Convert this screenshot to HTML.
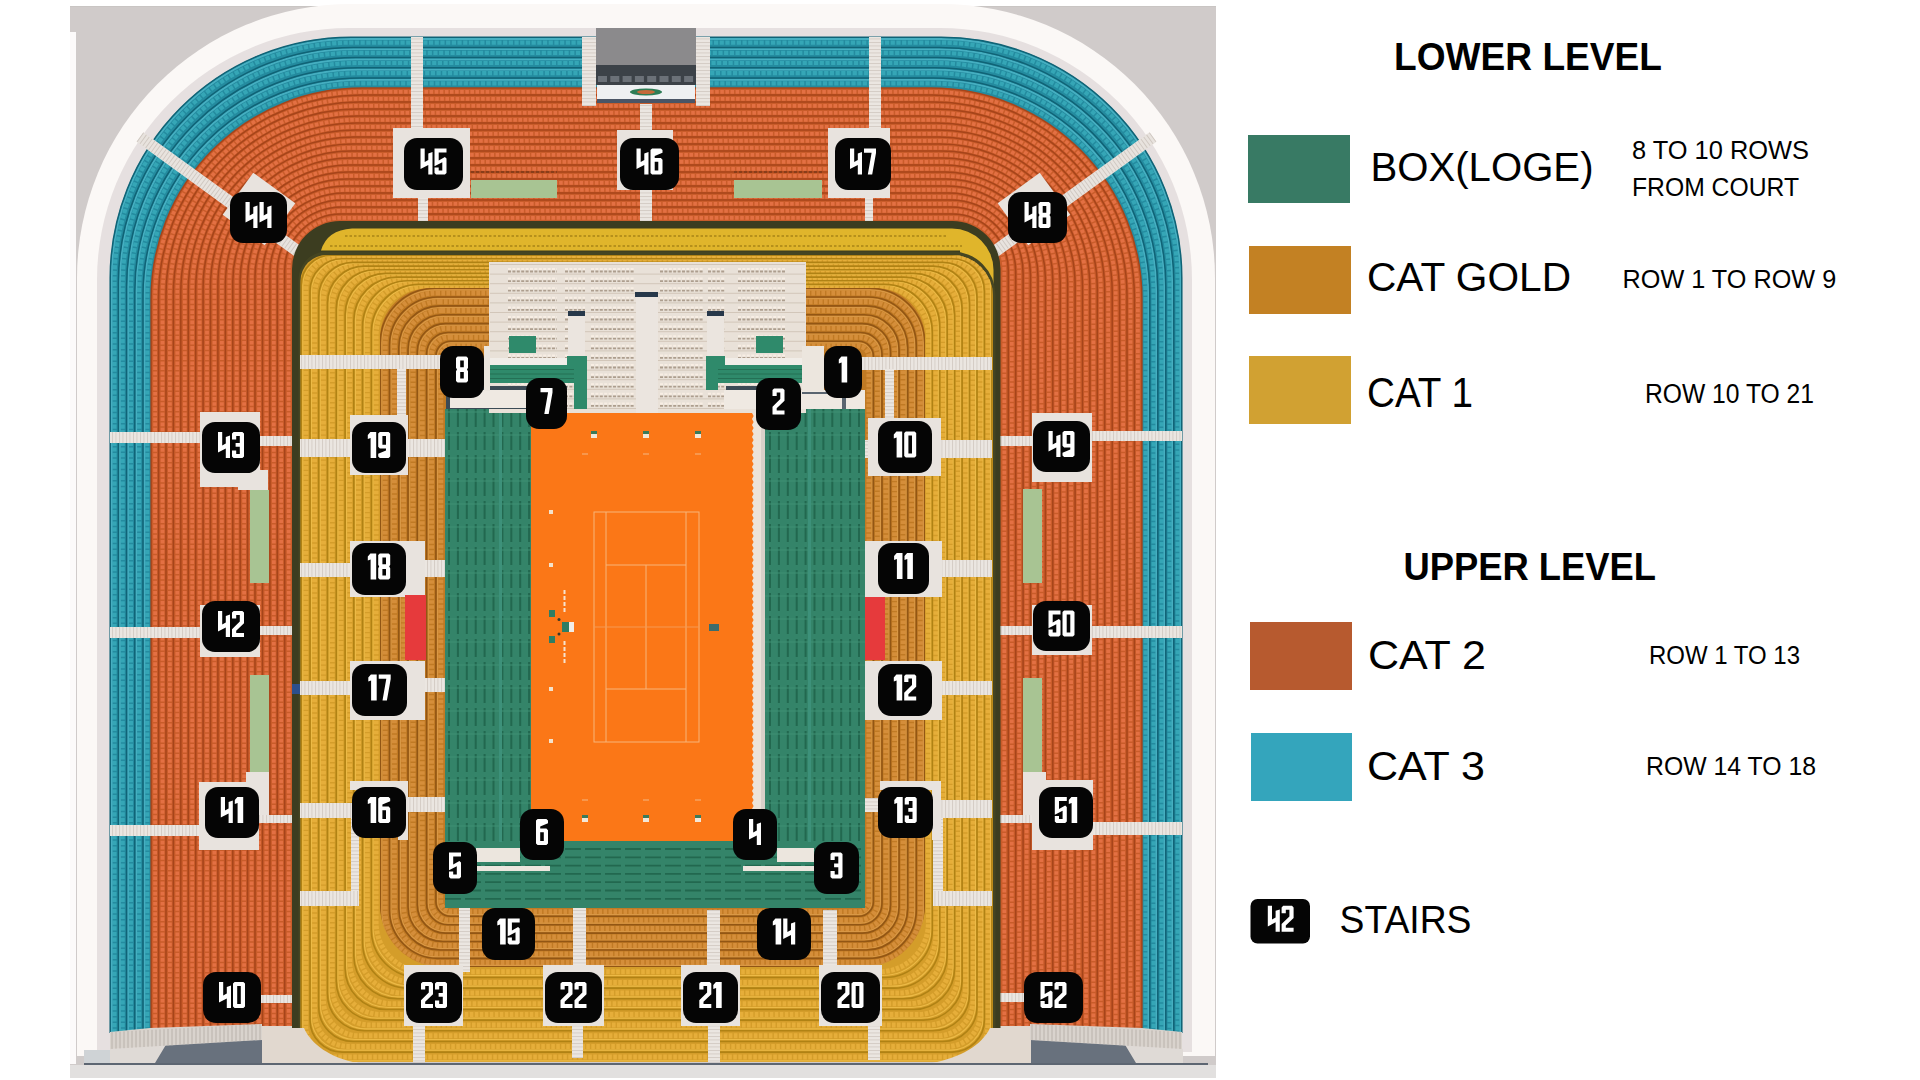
<!DOCTYPE html>
<html><head><meta charset="utf-8"><style>
html,body{margin:0;padding:0;background:#fff;width:1920px;height:1080px;overflow:hidden}
svg{position:absolute;left:0;top:0;display:block}
text{font-family:"Liberation Sans",sans-serif}
</style></head><body>
<svg width="1920" height="1080" viewBox="0 0 1920 1080">
<g>
<defs><pattern id="aH" width="3.5" height="10" patternUnits="userSpaceOnUse"><rect width="3.5" height="10" fill="#ebe6e1"/><rect width="0.9" height="10" fill="#d3cbc4"/></pattern><pattern id="aV" width="10" height="3.5" patternUnits="userSpaceOnUse"><rect width="10" height="3.5" fill="#ebe6e1"/><rect width="10" height="0.9" fill="#d3cbc4"/></pattern></defs><rect x="70" y="6" width="1146" height="1074" fill="#d0cbca"/><rect x="70" y="6" width="1146" height="1" fill="#c9c5c3"/><rect x="70" y="32" width="6" height="1032" fill="#fcfafa"/><path d="M77.0,1056.0 L77.0,278.0 A274.0,274.0 0 0 1 351.0,4.0 L941.0,4.0 A274.0,274.0 0 0 1 1215.0,278.0 L1215.0,1056.0 Z" fill="#fbf8f6"/><path d="M97.0,1052.0 L97.0,280.0 A252.0,252.0 0 0 1 349.0,28.0 L940.0,28.0 A252.0,252.0 0 0 1 1192.0,280.0 L1192.0,1052.0 Z" fill="#e6e0e0"/><rect x="84" y="1063" width="1124" height="2" fill="#5d6672"/><rect x="70" y="1065" width="1146" height="13" fill="#e2e0df"/><rect x="70" y="1078" width="1146" height="2" fill="#fff"/><rect x="84" y="1050" width="26" height="13" fill="#cfd3d6"/><polygon points="110,1049 251,1040 253,1032 263,1032 263,1063 110,1063" fill="#dfdad6"/><polygon points="167,1043 252,1040 253,1032 263,1032 263,1063 155,1063" fill="#68717d"/><polygon points="263,1032 318,1032 358,1063 263,1063" fill="#e1d8cf"/><polygon points="1183,1049 1040,1040 1030,1032 1029,1032 1029,1063 1183,1063" fill="#dfdad6"/><polygon points="1124,1043 1040,1040 1030,1032 1029,1032 1029,1063 1136,1063" fill="#68717d"/><polygon points="1029,1032 975,1032 935,1063 1029,1063" fill="#e1d8cf"/><path d="M110.0,1033.0 L110.0,278.0 A241.0,241.0 0 0 1 351.0,37.0 L941.0,37.0 A241.0,241.0 0 0 1 1182.0,278.0 L1182.0,1033.0 Z" fill="#248b9f"/><path d="M114.5,1033.0 L114.5,280.3 A237.7,237.7 0 0 1 352.2,42.6 L939.9,42.6 A237.7,237.7 0 0 1 1177.6,280.3 L1177.6,1033.0 M122.7,1033.0 L122.7,284.5 A231.7,231.7 0 0 1 354.4,52.8 L937.9,52.8 A231.7,231.7 0 0 1 1169.6,284.5 L1169.6,1033.0 M130.9,1033.0 L130.9,288.7 A225.7,225.7 0 0 1 356.6,63.0 L935.9,63.0 A225.7,225.7 0 0 1 1161.6,288.7 L1161.6,1033.0 M139.1,1033.0 L139.1,292.9 A219.7,219.7 0 0 1 358.8,73.2 L933.9,73.2 A219.7,219.7 0 0 1 1153.6,292.9 L1153.6,1033.0 M147.3,1033.0 L147.3,297.1 A213.7,213.7 0 0 1 361.0,83.4 L931.9,83.4 A213.7,213.7 0 0 1 1145.6,297.1 L1145.6,1033.0" fill="none" stroke="#35a6b6" stroke-width="4.2" stroke-dasharray="4.2 1.5"/><path d="M111.6,1033.0 L111.6,278.8 A239.8,239.8 0 0 1 351.4,39.0 L940.6,39.0 A239.8,239.8 0 0 1 1180.4,278.8 L1180.4,1033.0 M119.8,1033.0 L119.8,283.0 A233.8,233.8 0 0 1 353.6,49.2 L938.6,49.2 A233.8,233.8 0 0 1 1172.4,283.0 L1172.4,1033.0 M128.0,1033.0 L128.0,287.2 A227.8,227.8 0 0 1 355.8,59.4 L936.6,59.4 A227.8,227.8 0 0 1 1164.4,287.2 L1164.4,1033.0 M136.2,1033.0 L136.2,291.4 A221.8,221.8 0 0 1 358.0,69.6 L934.6,69.6 A221.8,221.8 0 0 1 1156.4,291.4 L1156.4,1033.0 M144.4,1033.0 L144.4,295.6 A215.8,215.8 0 0 1 360.2,79.8 L932.6,79.8 A215.8,215.8 0 0 1 1148.4,295.6 L1148.4,1033.0" fill="none" stroke="#46afc1" stroke-width="1.8"/><path d="M110.2,1033.0 L110.2,278.1 A240.9,240.9 0 0 1 351.0,37.2 L941.0,37.2 A240.9,240.9 0 0 1 1181.8,278.1 L1181.8,1033.0 M118.4,1033.0 L118.4,282.3 A234.9,234.9 0 0 1 353.2,47.4 L939.0,47.4 A234.9,234.9 0 0 1 1173.8,282.3 L1173.8,1033.0 M126.6,1033.0 L126.6,286.5 A228.9,228.9 0 0 1 355.4,57.6 L937.0,57.6 A228.9,228.9 0 0 1 1165.8,286.5 L1165.8,1033.0 M134.8,1033.0 L134.8,290.7 A222.9,222.9 0 0 1 357.6,67.8 L935.0,67.8 A222.9,222.9 0 0 1 1157.8,290.7 L1157.8,1033.0 M143.0,1033.0 L143.0,294.9 A216.9,216.9 0 0 1 359.8,78.0 L933.0,78.0 A216.9,216.9 0 0 1 1149.8,294.9 L1149.8,1033.0" fill="none" stroke="#106376" stroke-width="1.5"/><path d="M151.0,1028.0 L151.0,299.0 A211.0,211.0 0 0 1 362.0,88.0 L931.0,88.0 A211.0,211.0 0 0 1 1142.0,299.0 L1142.0,1028.0 Z" fill="#c95c2a"/><path d="M155.1,1028.0 L155.1,298.1 A206.3,206.3 0 0 1 361.4,91.8 L931.6,91.8 A206.3,206.3 0 0 1 1137.9,298.1 L1137.9,1028.0 M162.5,1028.0 L162.5,296.6 A197.7,197.7 0 0 1 360.2,98.8 L932.8,98.8 A197.7,197.7 0 0 1 1130.5,296.6 L1130.5,1028.0 M169.9,1028.0 L169.9,295.0 A189.1,189.1 0 0 1 359.0,105.8 L934.0,105.8 A189.1,189.1 0 0 1 1123.1,295.0 L1123.1,1028.0 M177.3,1028.0 L177.3,293.4 A180.5,180.5 0 0 1 357.9,112.8 L935.1,112.8 A180.5,180.5 0 0 1 1115.7,293.4 L1115.7,1028.0 M184.8,1028.0 L184.8,291.8 A172.0,172.0 0 0 1 356.7,119.8 L936.3,119.8 A172.0,172.0 0 0 1 1108.2,291.8 L1108.2,1028.0 M192.2,1028.0 L192.2,290.2 A163.4,163.4 0 0 1 355.6,126.8 L937.4,126.8 A163.4,163.4 0 0 1 1100.8,290.2 L1100.8,1028.0 M199.6,1028.0 L199.6,288.7 A154.8,154.8 0 0 1 354.4,133.8 L938.6,133.8 A154.8,154.8 0 0 1 1093.4,288.7 L1093.4,1028.0 M207.0,1028.0 L207.0,287.1 A146.2,146.2 0 0 1 353.3,140.8 L939.7,140.8 A146.2,146.2 0 0 1 1086.0,287.1 L1086.0,1028.0 M214.4,1028.0 L214.4,285.5 A137.6,137.6 0 0 1 352.1,147.8 L940.9,147.8 A137.6,137.6 0 0 1 1078.5,285.5 L1078.5,1028.0 M221.9,1028.0 L221.9,283.9 A129.1,129.1 0 0 1 350.9,154.8 L942.1,154.8 A129.1,129.1 0 0 1 1071.1,283.9 L1071.1,1028.0 M229.3,1028.0 L229.3,282.3 A120.5,120.5 0 0 1 349.8,161.9 L943.2,161.9 A120.5,120.5 0 0 1 1063.7,282.3 L1063.7,1028.0 M236.7,1028.0 L236.7,280.8 A111.9,111.9 0 0 1 348.6,168.8 L944.4,168.8 A111.9,111.9 0 0 1 1056.3,280.8 L1056.3,1028.0 M244.1,1028.0 L244.1,279.2 A103.3,103.3 0 0 1 347.5,175.9 L945.5,175.9 A103.3,103.3 0 0 1 1048.9,279.2 L1048.9,1028.0 M251.6,1028.0 L251.6,277.6 A94.8,94.8 0 0 1 346.3,182.8 L946.7,182.8 A94.8,94.8 0 0 1 1041.4,277.6 L1041.4,1028.0 M259.0,1028.0 L259.0,276.0 A86.2,86.2 0 0 1 345.2,189.9 L947.8,189.9 A86.2,86.2 0 0 1 1034.0,276.0 L1034.0,1028.0 M266.4,1028.0 L266.4,274.4 A77.6,77.6 0 0 1 344.0,196.8 L949.0,196.8 A77.6,77.6 0 0 1 1026.6,274.4 L1026.6,1028.0 M273.8,1028.0 L273.8,272.9 A69.0,69.0 0 0 1 342.8,203.9 L950.2,203.9 A69.0,69.0 0 0 1 1019.2,272.9 L1019.2,1028.0 M281.2,1028.0 L281.2,271.3 A60.4,60.4 0 0 1 341.7,210.8 L951.3,210.8 A60.4,60.4 0 0 1 1011.8,271.3 L1011.8,1028.0 M288.7,1028.0 L288.7,269.7 A51.9,51.9 0 0 1 340.5,217.8 L952.5,217.8 A51.9,51.9 0 0 1 1004.3,269.7 L1004.3,1028.0" fill="none" stroke="#e37043" stroke-width="3.8" stroke-dasharray="3.6 1.5"/><path d="M151.1,1028.0 L151.1,299.0 A210.8,210.8 0 0 1 362.0,88.1 L931.0,88.1 A210.8,210.8 0 0 1 1141.9,299.0 L1141.9,1028.0 M158.6,1028.0 L158.6,297.4 A202.2,202.2 0 0 1 360.8,95.1 L932.2,95.1 A202.2,202.2 0 0 1 1134.4,297.4 L1134.4,1028.0 M166.0,1028.0 L166.0,295.8 A193.7,193.7 0 0 1 359.7,102.1 L933.3,102.1 A193.7,193.7 0 0 1 1127.0,295.8 L1127.0,1028.0 M173.4,1028.0 L173.4,294.2 A185.1,185.1 0 0 1 358.5,109.1 L934.5,109.1 A185.1,185.1 0 0 1 1119.6,294.2 L1119.6,1028.0 M180.8,1028.0 L180.8,292.7 A176.5,176.5 0 0 1 357.3,116.1 L935.7,116.1 A176.5,176.5 0 0 1 1112.2,292.7 L1112.2,1028.0 M188.3,1028.0 L188.3,291.1 A167.9,167.9 0 0 1 356.2,123.1 L936.8,123.1 A167.9,167.9 0 0 1 1104.7,291.1 L1104.7,1028.0 M195.7,1028.0 L195.7,289.5 A159.4,159.4 0 0 1 355.0,130.1 L938.0,130.1 A159.4,159.4 0 0 1 1097.3,289.5 L1097.3,1028.0 M203.1,1028.0 L203.1,287.9 A150.8,150.8 0 0 1 353.9,137.1 L939.1,137.1 A150.8,150.8 0 0 1 1089.9,287.9 L1089.9,1028.0 M210.5,1028.0 L210.5,286.3 A142.2,142.2 0 0 1 352.7,144.1 L940.3,144.1 A142.2,142.2 0 0 1 1082.5,286.3 L1082.5,1028.0 M217.9,1028.0 L217.9,284.8 A133.6,133.6 0 0 1 351.6,151.1 L941.4,151.1 A133.6,133.6 0 0 1 1075.1,284.8 L1075.1,1028.0 M225.4,1028.0 L225.4,283.2 A125.0,125.0 0 0 1 350.4,158.1 L942.6,158.1 A125.0,125.0 0 0 1 1067.6,283.2 L1067.6,1028.0 M232.8,1028.0 L232.8,281.6 A116.5,116.5 0 0 1 349.2,165.1 L943.8,165.1 A116.5,116.5 0 0 1 1060.2,281.6 L1060.2,1028.0 M240.2,1028.0 L240.2,280.0 A107.9,107.9 0 0 1 348.1,172.1 L944.9,172.1 A107.9,107.9 0 0 1 1052.8,280.0 L1052.8,1028.0 M247.6,1028.0 L247.6,278.4 A99.3,99.3 0 0 1 346.9,179.1 L946.1,179.1 A99.3,99.3 0 0 1 1045.4,278.4 L1045.4,1028.0 M255.0,1028.0 L255.0,276.9 A90.7,90.7 0 0 1 345.8,186.1 L947.2,186.1 A90.7,90.7 0 0 1 1038.0,276.9 L1038.0,1028.0 M262.5,1028.0 L262.5,275.3 A82.1,82.1 0 0 1 344.6,193.1 L948.4,193.1 A82.1,82.1 0 0 1 1030.5,275.3 L1030.5,1028.0 M269.9,1028.0 L269.9,273.7 A73.6,73.6 0 0 1 343.5,200.1 L949.5,200.1 A73.6,73.6 0 0 1 1023.1,273.7 L1023.1,1028.0 M277.3,1028.0 L277.3,272.1 A65.0,65.0 0 0 1 342.3,207.1 L950.7,207.1 A65.0,65.0 0 0 1 1015.7,272.1 L1015.7,1028.0 M284.7,1028.0 L284.7,270.5 A56.4,56.4 0 0 1 341.1,214.1 L951.9,214.1 A56.4,56.4 0 0 1 1008.3,270.5 L1008.3,1028.0" fill="none" stroke="#a6441a" stroke-width="1.5"/><rect x="262" y="1026" width="31" height="37" fill="#e1d8cf"/><rect x="1000" y="1026" width="31" height="37" fill="#e1d8cf"/><polygon points="110,1032 150,1028 262,1024 262,1040 110,1049" fill="#d9d3cd"/><polygon points="1182,1032 1142,1028 1030,1024 1030,1040 1182,1049" fill="#d9d3cd"/><g stroke="#b9b2ab" stroke-width="1"><line x1="112" y1="1031.9" x2="112" y2="1048.9"/><line x1="116" y1="1031.7" x2="116" y2="1048.6"/><line x1="120" y1="1031.5" x2="120" y2="1048.4"/><line x1="124" y1="1031.3" x2="124" y2="1048.2"/><line x1="128" y1="1031.1" x2="128" y2="1047.9"/><line x1="132" y1="1030.9" x2="132" y2="1047.7"/><line x1="136" y1="1030.6" x2="136" y2="1047.4"/><line x1="140" y1="1030.4" x2="140" y2="1047.2"/><line x1="144" y1="1030.2" x2="144" y2="1047.0"/><line x1="148" y1="1030.0" x2="148" y2="1046.7"/><line x1="152" y1="1029.8" x2="152" y2="1046.5"/><line x1="156" y1="1029.6" x2="156" y2="1046.2"/><line x1="160" y1="1029.4" x2="160" y2="1046.0"/><line x1="164" y1="1029.2" x2="164" y2="1045.8"/><line x1="168" y1="1029.0" x2="168" y2="1045.5"/><line x1="172" y1="1028.8" x2="172" y2="1045.3"/><line x1="176" y1="1028.6" x2="176" y2="1045.0"/><line x1="180" y1="1028.4" x2="180" y2="1044.8"/><line x1="184" y1="1028.2" x2="184" y2="1044.6"/><line x1="188" y1="1027.9" x2="188" y2="1044.3"/><line x1="192" y1="1027.7" x2="192" y2="1044.1"/><line x1="196" y1="1027.5" x2="196" y2="1043.8"/><line x1="200" y1="1027.3" x2="200" y2="1043.6"/><line x1="204" y1="1027.1" x2="204" y2="1043.4"/><line x1="208" y1="1026.9" x2="208" y2="1043.1"/><line x1="212" y1="1026.7" x2="212" y2="1042.9"/><line x1="216" y1="1026.5" x2="216" y2="1042.6"/><line x1="220" y1="1026.3" x2="220" y2="1042.4"/><line x1="224" y1="1026.1" x2="224" y2="1042.2"/><line x1="228" y1="1025.9" x2="228" y2="1041.9"/><line x1="232" y1="1025.7" x2="232" y2="1041.7"/><line x1="236" y1="1025.4" x2="236" y2="1041.4"/><line x1="240" y1="1025.2" x2="240" y2="1041.2"/><line x1="244" y1="1025.0" x2="244" y2="1041.0"/><line x1="248" y1="1024.8" x2="248" y2="1040.7"/><line x1="252" y1="1024.6" x2="252" y2="1040.5"/><line x1="256" y1="1024.4" x2="256" y2="1040.2"/><line x1="260" y1="1024.2" x2="260" y2="1040.0"/><line x1="1032" y1="1024.2" x2="1032" y2="1040.0"/><line x1="1036" y1="1024.4" x2="1036" y2="1040.2"/><line x1="1040" y1="1024.6" x2="1040" y2="1040.5"/><line x1="1044" y1="1024.8" x2="1044" y2="1040.7"/><line x1="1048" y1="1025.0" x2="1048" y2="1041.0"/><line x1="1052" y1="1025.2" x2="1052" y2="1041.2"/><line x1="1056" y1="1025.4" x2="1056" y2="1041.4"/><line x1="1060" y1="1025.7" x2="1060" y2="1041.7"/><line x1="1064" y1="1025.9" x2="1064" y2="1041.9"/><line x1="1068" y1="1026.1" x2="1068" y2="1042.2"/><line x1="1072" y1="1026.3" x2="1072" y2="1042.4"/><line x1="1076" y1="1026.5" x2="1076" y2="1042.6"/><line x1="1080" y1="1026.7" x2="1080" y2="1042.9"/><line x1="1084" y1="1026.9" x2="1084" y2="1043.1"/><line x1="1088" y1="1027.1" x2="1088" y2="1043.4"/><line x1="1092" y1="1027.3" x2="1092" y2="1043.6"/><line x1="1096" y1="1027.5" x2="1096" y2="1043.8"/><line x1="1100" y1="1027.7" x2="1100" y2="1044.1"/><line x1="1104" y1="1027.9" x2="1104" y2="1044.3"/><line x1="1108" y1="1028.2" x2="1108" y2="1044.6"/><line x1="1112" y1="1028.4" x2="1112" y2="1044.8"/><line x1="1116" y1="1028.6" x2="1116" y2="1045.0"/><line x1="1120" y1="1028.8" x2="1120" y2="1045.3"/><line x1="1124" y1="1029.0" x2="1124" y2="1045.5"/><line x1="1128" y1="1029.2" x2="1128" y2="1045.8"/><line x1="1132" y1="1029.4" x2="1132" y2="1046.0"/><line x1="1136" y1="1029.6" x2="1136" y2="1046.2"/><line x1="1140" y1="1029.8" x2="1140" y2="1046.5"/><line x1="1144" y1="1030.0" x2="1144" y2="1046.7"/><line x1="1148" y1="1030.2" x2="1148" y2="1047.0"/><line x1="1152" y1="1030.4" x2="1152" y2="1047.2"/><line x1="1156" y1="1030.6" x2="1156" y2="1047.4"/><line x1="1160" y1="1030.9" x2="1160" y2="1047.7"/><line x1="1164" y1="1031.1" x2="1164" y2="1047.9"/><line x1="1168" y1="1031.3" x2="1168" y2="1048.2"/><line x1="1172" y1="1031.5" x2="1172" y2="1048.4"/><line x1="1176" y1="1031.7" x2="1176" y2="1048.6"/><line x1="1180" y1="1031.9" x2="1180" y2="1048.9"/></g><rect x="411" y="37" width="12" height="93" fill="url(#aV)"/><rect x="418" y="195" width="10" height="26" fill="url(#aV)"/><rect x="640" y="104" width="12" height="28" fill="url(#aV)"/><rect x="640" y="188" width="12" height="33" fill="url(#aV)"/><rect x="869" y="37" width="12" height="93" fill="url(#aV)"/><rect x="865" y="195" width="8" height="26" fill="url(#aV)"/><rect x="582" y="37" width="14" height="69" fill="url(#aV)"/><rect x="696" y="37" width="14" height="69" fill="url(#aV)"/><rect x="110" y="432" width="94" height="11" fill="url(#aH)"/><rect x="258" y="436" width="34" height="10" fill="url(#aH)"/><rect x="110" y="627" width="94" height="11" fill="url(#aH)"/><rect x="258" y="626" width="34" height="9" fill="url(#aH)"/><rect x="110" y="825" width="96" height="11" fill="url(#aH)"/><rect x="258" y="815" width="34" height="8" fill="url(#aH)"/><rect x="261" y="995" width="31" height="8" fill="url(#aH)"/><rect x="1090" y="431" width="92" height="10" fill="url(#aH)"/><rect x="1000" y="436" width="34" height="10" fill="url(#aH)"/><rect x="1090" y="626" width="92" height="12" fill="url(#aH)"/><rect x="1000" y="626" width="34" height="9" fill="url(#aH)"/><rect x="1093" y="822" width="89" height="13" fill="url(#aH)"/><rect x="1000" y="815" width="40" height="8" fill="url(#aH)"/><rect x="1000" y="993" width="26" height="9" fill="url(#aH)"/><line x1="140" y1="137" x2="303" y2="255" stroke="#e8e3de" stroke-width="12"/><line x1="1153" y1="137" x2="990" y2="255" stroke="#e8e3de" stroke-width="12"/><line x1="140" y1="137" x2="303" y2="255" stroke="#cfc7c0" stroke-width="11" stroke-dasharray="0.9 2.6"/><line x1="1153" y1="137" x2="990" y2="255" stroke="#cfc7c0" stroke-width="11" stroke-dasharray="0.9 2.6"/><rect x="233" y="183" width="52" height="52" fill="#e8e3de" transform="rotate(36 259 209)"/><rect x="1008" y="183" width="52" height="52" fill="#e8e3de" transform="rotate(-36 1034 209)"/><rect x="393" y="128" width="77" height="70" fill="#e8e3de"/><rect x="617" y="130" width="56" height="60" fill="#e8e3de"/><rect x="828" y="128" width="62" height="70" fill="#e8e3de"/><rect x="200" y="412" width="60" height="75" fill="#e8e3de"/><rect x="238" y="470" width="30" height="20" fill="#e8e3de"/><rect x="200" y="605" width="60" height="52" fill="#e8e3de"/><rect x="199" y="782" width="60" height="68" fill="#e8e3de"/><rect x="246" y="772" width="23" height="43" fill="#e8e3de"/><rect x="1032" y="413" width="60" height="69" fill="#e8e3de"/><rect x="1032" y="605" width="60" height="50" fill="#e8e3de"/><rect x="1032" y="780" width="61" height="70" fill="#e8e3de"/><rect x="1023" y="772" width="23" height="43" fill="#e8e3de"/><path d="M471,172 L557,172 M734,172 L822,172" stroke="#7d3a18" stroke-width="1.5" stroke-dasharray="3 2"/><rect x="471" y="180" width="86" height="18" fill="#a8c493"/><rect x="734" y="180" width="88" height="18" fill="#a8c493"/><rect x="250" y="490" width="19" height="93" fill="#a8c493"/><rect x="250" y="675" width="19" height="97" fill="#a8c493"/><rect x="1023" y="489" width="19" height="94" fill="#a8c493"/><rect x="1023" y="678" width="19" height="94" fill="#a8c493"/><rect x="596" y="28" width="100" height="37" fill="#8b8a8c"/><rect x="596" y="65" width="100" height="20" fill="#3c4248"/><g fill="#6b7178"><rect x="598.0" y="76" width="9" height="6"/><rect x="610.3" y="76" width="9" height="6"/><rect x="622.6" y="76" width="9" height="6"/><rect x="634.9" y="76" width="9" height="6"/><rect x="647.2" y="76" width="9" height="6"/><rect x="659.5" y="76" width="9" height="6"/><rect x="671.8" y="76" width="9" height="6"/><rect x="684.1" y="76" width="9" height="6"/></g><rect x="597" y="85" width="98" height="14" fill="#eef0f2"/><rect x="597" y="99" width="98" height="4" fill="#4a5566"/><ellipse cx="646" cy="92" rx="16" ry="3.5" fill="#2e7d56"/><ellipse cx="646" cy="92" rx="9" ry="2" fill="#c56a3a"/><path d="M292.0,1062.0 L292.0,269.0 A48.0,48.0 0 0 1 340.0,221.0 L952.5,221.0 A48.0,48.0 0 0 1 1000.5,269.0 L1000.5,1062.0 Z" fill="#3c3d20"/><path d="M321,250.5 Q327,230 352,228.5 L952,228.5 A41.5,41.5 0 0 1 993.5,270 L993.5,310 L960,310 L960,250.5 Z" fill="#e0b52b"/><path d="M298.5,1062 L298.5,280 A28,28 0 0 1 326.5,251.5 L952,251.5 A43.5,43.5 0 0 1 995.5,295 L995.5,1062 Z" fill="#454522"/><path d="M330,246 L962,246 M345,236 L948,236" stroke="#a88417" stroke-width="1.6" stroke-dasharray="2.5 2"/><clipPath id="cBowl"><path d="M300.5,1062 L300.5,281 A26,26 0 0 1 326.5,255 L952,255 A41,41 0 0 1 993,296 L993,1062 Z"/></clipPath><g clip-path="url(#cBowl)"><rect x="290" y="250" width="710" height="820" fill="#d49d2a"/><path d="M337.1,257.0 L956.7,257.0 A31.2,31.2 0 0 1 987.9,288.2 L987.9,1025.9 A31.2,31.2 0 0 1 956.7,1057.1 L337.1,1057.1 A31.2,31.2 0 0 1 305.8,1025.9 L305.8,288.2 A31.2,31.2 0 0 1 337.1,257.0 Z M348.1,260.7 L947.0,260.7 A33.4,33.4 0 0 1 980.5,294.1 L980.5,1013.0 A33.4,33.4 0 0 1 947.0,1046.5 L348.1,1046.5 A33.4,33.4 0 0 1 314.6,1013.0 L314.6,294.1 A33.4,33.4 0 0 1 348.1,260.7 Z M359.1,264.4 L937.4,264.4 A35.7,35.7 0 0 1 973.0,300.0 L973.0,1000.1 A35.7,35.7 0 0 1 937.4,1035.8 L359.1,1035.8 A35.7,35.7 0 0 1 323.4,1000.1 L323.4,300.0 A35.7,35.7 0 0 1 359.1,264.4 Z M370.0,268.0 L927.7,268.0 A37.9,37.9 0 0 1 965.6,305.9 L965.6,987.2 A37.9,37.9 0 0 1 927.7,1025.1 L370.0,1025.1 A37.9,37.9 0 0 1 332.2,987.2 L332.2,305.9 A37.9,37.9 0 0 1 370.0,268.0 Z M381.0,271.7 L918.0,271.7 A40.1,40.1 0 0 1 958.1,311.8 L958.1,974.4 A40.1,40.1 0 0 1 918.0,1014.5 L381.0,1014.5 A40.1,40.1 0 0 1 340.9,974.4 L340.9,311.8 A40.1,40.1 0 0 1 381.0,271.7 Z M392.1,275.4 L908.3,275.4 A42.3,42.3 0 0 1 950.7,317.7 L950.7,961.5 A42.3,42.3 0 0 1 908.3,1003.8 L392.1,1003.8 A42.3,42.3 0 0 1 349.7,961.5 L349.7,317.7 A42.3,42.3 0 0 1 392.1,275.4 Z M403.0,279.0 L898.7,279.0 A44.6,44.6 0 0 1 943.2,323.6 L943.2,948.6 A44.6,44.6 0 0 1 898.7,993.1 L403.0,993.1 A44.6,44.6 0 0 1 358.5,948.6 L358.5,323.6 A44.6,44.6 0 0 1 403.0,279.0 Z M414.1,282.7 L889.0,282.7 A46.8,46.8 0 0 1 935.8,329.5 L935.8,935.7 A46.8,46.8 0 0 1 889.0,982.5 L414.1,982.5 A46.8,46.8 0 0 1 367.3,935.7 L367.3,329.5 A46.8,46.8 0 0 1 414.1,282.7 Z M425.1,286.4 L879.4,286.4 A49.0,49.0 0 0 1 928.4,335.4 L928.4,922.8 A49.0,49.0 0 0 1 879.4,971.8 L425.1,971.8 A49.0,49.0 0 0 1 376.1,922.8 L376.1,335.4 A49.0,49.0 0 0 1 425.1,286.4 Z" fill="none" stroke="#e6ae3a" stroke-width="5.0" stroke-dasharray="3.6 1.4"/><path d="M333.2,255.7 L960.1,255.7 A30.4,30.4 0 0 1 990.5,286.2 L990.5,1030.4 A30.4,30.4 0 0 1 960.1,1060.9 L333.2,1060.9 A30.4,30.4 0 0 1 302.8,1030.4 L302.8,286.2 A30.4,30.4 0 0 1 333.2,255.7 Z M344.2,259.4 L950.4,259.4 A32.7,32.7 0 0 1 983.1,292.1 L983.1,1017.5 A32.7,32.7 0 0 1 950.4,1050.2 L344.2,1050.2 A32.7,32.7 0 0 1 311.5,1017.5 L311.5,292.1 A32.7,32.7 0 0 1 344.2,259.4 Z M355.2,263.1 L940.7,263.1 A34.9,34.9 0 0 1 975.6,298.0 L975.6,1004.6 A34.9,34.9 0 0 1 940.7,1039.5 L355.2,1039.5 A34.9,34.9 0 0 1 320.3,1004.6 L320.3,298.0 A34.9,34.9 0 0 1 355.2,263.1 Z M366.2,266.7 L931.1,266.7 A37.1,37.1 0 0 1 968.2,303.8 L968.2,991.8 A37.1,37.1 0 0 1 931.1,1028.9 L366.2,1028.9 A37.1,37.1 0 0 1 329.1,991.8 L329.1,303.8 A37.1,37.1 0 0 1 366.2,266.7 Z M377.2,270.4 L921.4,270.4 A39.3,39.3 0 0 1 960.7,309.7 L960.7,978.9 A39.3,39.3 0 0 1 921.4,1018.2 L377.2,1018.2 A39.3,39.3 0 0 1 337.9,978.9 L337.9,309.7 A39.3,39.3 0 0 1 377.2,270.4 Z M388.2,274.1 L911.7,274.1 A41.6,41.6 0 0 1 953.3,315.6 L953.3,966.0 A41.6,41.6 0 0 1 911.7,1007.5 L388.2,1007.5 A41.6,41.6 0 0 1 346.6,966.0 L346.6,315.6 A41.6,41.6 0 0 1 388.2,274.1 Z M399.2,277.7 L902.1,277.7 A43.8,43.8 0 0 1 945.8,321.5 L945.8,953.1 A43.8,43.8 0 0 1 902.1,996.9 L399.2,996.9 A43.8,43.8 0 0 1 355.4,953.1 L355.4,321.5 A43.8,43.8 0 0 1 399.2,277.7 Z M410.2,281.4 L892.4,281.4 A46.0,46.0 0 0 1 938.4,327.4 L938.4,940.2 A46.0,46.0 0 0 1 892.4,986.2 L410.2,986.2 A46.0,46.0 0 0 1 364.2,940.2 L364.2,327.4 A46.0,46.0 0 0 1 410.2,281.4 Z M421.2,285.1 L882.7,285.1 A48.2,48.2 0 0 1 931.0,333.3 L931.0,927.3 A48.2,48.2 0 0 1 882.7,975.5 L421.2,975.5 A48.2,48.2 0 0 1 373.0,927.3 L373.0,333.3 A48.2,48.2 0 0 1 421.2,285.1 Z" fill="none" stroke="#ecba46" stroke-width="1.2"/><path d="M331.2,255.1 L961.8,255.1 A30.0,30.0 0 0 1 991.9,285.1 L991.9,1032.7 A30.0,30.0 0 0 1 961.8,1062.8 L331.2,1062.8 A30.0,30.0 0 0 1 301.2,1032.7 L301.2,285.1 A30.0,30.0 0 0 1 331.2,255.1 Z M342.2,258.7 L952.1,258.7 A32.3,32.3 0 0 1 984.4,291.0 L984.4,1019.9 A32.3,32.3 0 0 1 952.1,1052.1 L342.2,1052.1 A32.3,32.3 0 0 1 310.0,1019.9 L310.0,291.0 A32.3,32.3 0 0 1 342.2,258.7 Z M353.2,262.4 L942.5,262.4 A34.5,34.5 0 0 1 977.0,296.9 L977.0,1007.0 A34.5,34.5 0 0 1 942.5,1041.5 L353.2,1041.5 A34.5,34.5 0 0 1 318.7,1007.0 L318.7,296.9 A34.5,34.5 0 0 1 353.2,262.4 Z M364.2,266.1 L932.8,266.1 A36.7,36.7 0 0 1 969.5,302.8 L969.5,994.1 A36.7,36.7 0 0 1 932.8,1030.8 L364.2,1030.8 A36.7,36.7 0 0 1 327.5,994.1 L327.5,302.8 A36.7,36.7 0 0 1 364.2,266.1 Z M375.2,269.7 L923.1,269.7 A38.9,38.9 0 0 1 962.1,308.7 L962.1,981.2 A38.9,38.9 0 0 1 923.1,1020.1 L375.2,1020.1 A38.9,38.9 0 0 1 336.3,981.2 L336.3,308.7 A38.9,38.9 0 0 1 375.2,269.7 Z M386.2,273.4 L913.5,273.4 A41.2,41.2 0 0 1 954.6,314.6 L954.6,968.3 A41.2,41.2 0 0 1 913.5,1009.5 L386.2,1009.5 A41.2,41.2 0 0 1 345.1,968.3 L345.1,314.6 A41.2,41.2 0 0 1 386.2,273.4 Z M397.2,277.1 L903.8,277.1 A43.4,43.4 0 0 1 947.2,320.5 L947.2,955.4 A43.4,43.4 0 0 1 903.8,998.8 L397.2,998.8 A43.4,43.4 0 0 1 353.8,955.4 L353.8,320.5 A43.4,43.4 0 0 1 397.2,277.1 Z M408.2,280.7 L894.1,280.7 A45.6,45.6 0 0 1 939.7,326.3 L939.7,942.5 A45.6,45.6 0 0 1 894.1,988.1 L408.2,988.1 A45.6,45.6 0 0 1 362.6,942.5 L362.6,326.3 A45.6,45.6 0 0 1 408.2,280.7 Z M419.2,284.4 L884.5,284.4 A47.8,47.8 0 0 1 932.3,332.2 L932.3,929.6 A47.8,47.8 0 0 1 884.5,977.5 L419.2,977.5 A47.8,47.8 0 0 1 371.4,929.6 L371.4,332.2 A47.8,47.8 0 0 1 419.2,284.4 Z" fill="none" stroke="#b08214" stroke-width="1.6"/></g><path d="M290,1028 L304,1028 C311,1044 330,1058 358,1063 L290,1063 Z" fill="#e1d8cf"/><path d="M1003,1028 L990,1028 C982,1045 960,1058 932,1063 L1003,1063 Z" fill="#e1d8cf"/><rect x="292" y="684" width="8" height="10" fill="#2b4f8c"/><clipPath id="cGold"><path d="M380,905 L380,338 A50,50 0 0 1 430,288 L875,288 A50,50 0 0 1 925,338 L925,905 A62,62 0 0 1 863,967 L442,967 A62,62 0 0 1 380,905 Z"/></clipPath><g clip-path="url(#cGold)"><rect x="375" y="280" width="560" height="700" fill="#c07a24"/><path d="M436.4,292.9 L869.0,292.9 A51.3,51.3 0 0 1 920.3,344.2 L920.3,911.1 A51.3,51.3 0 0 1 869.0,962.4 L436.4,962.4 A51.3,51.3 0 0 1 385.1,911.1 L385.1,344.2 A51.3,51.3 0 0 1 436.4,292.9 Z M439.0,301.7 L867.1,301.7 A44.6,44.6 0 0 1 911.7,346.3 L911.7,909.3 A44.6,44.6 0 0 1 867.1,953.9 L439.0,953.9 A44.6,44.6 0 0 1 394.4,909.3 L394.4,346.3 A44.6,44.6 0 0 1 439.0,301.7 Z M441.6,310.6 L865.3,310.6 A37.9,37.9 0 0 1 903.1,348.5 L903.1,907.6 A37.9,37.9 0 0 1 865.3,945.5 L441.6,945.5 A37.9,37.9 0 0 1 403.7,907.6 L403.7,348.5 A37.9,37.9 0 0 1 441.6,310.6 Z M444.1,319.4 L863.4,319.4 A31.2,31.2 0 0 1 894.6,350.6 L894.6,905.9 A31.2,31.2 0 0 1 863.4,937.1 L444.1,937.1 A31.2,31.2 0 0 1 413.0,905.9 L413.0,350.6 A31.2,31.2 0 0 1 444.1,319.4 Z M446.7,328.3 L861.5,328.3 A24.4,24.4 0 0 1 886.0,352.8 L886.0,904.2 A24.4,24.4 0 0 1 861.5,928.6 L446.7,928.6 A24.4,24.4 0 0 1 422.2,904.2 L422.2,352.8 A24.4,24.4 0 0 1 446.7,328.3 Z M449.3,337.2 L859.7,337.2 A17.7,17.7 0 0 1 877.4,354.9 L877.4,902.5 A17.7,17.7 0 0 1 859.7,920.2 L449.3,920.2 A17.7,17.7 0 0 1 431.5,902.5 L431.5,354.9 A17.7,17.7 0 0 1 449.3,337.2 Z M451.8,346.0 L857.8,346.0 A11.0,11.0 0 0 1 868.9,357.0 L868.9,900.8 A11.0,11.0 0 0 1 857.8,911.8 L451.8,911.8 A11.0,11.0 0 0 1 440.8,900.8 L440.8,357.0 A11.0,11.0 0 0 1 451.8,346.0 Z" fill="none" stroke="#d58e3a" stroke-width="5.0" stroke-dasharray="3.6 1.4"/><path d="M435.5,289.8 L869.6,289.8 A53.7,53.7 0 0 1 923.3,343.4 L923.3,911.7 A53.7,53.7 0 0 1 869.6,965.3 L435.5,965.3 A53.7,53.7 0 0 1 381.9,911.7 L381.9,343.4 A53.7,53.7 0 0 1 435.5,289.8 Z M438.1,298.6 L867.8,298.6 A46.9,46.9 0 0 1 914.7,345.6 L914.7,909.9 A46.9,46.9 0 0 1 867.8,956.9 L438.1,956.9 A46.9,46.9 0 0 1 391.1,909.9 L391.1,345.6 A46.9,46.9 0 0 1 438.1,298.6 Z M440.7,307.5 L865.9,307.5 A40.2,40.2 0 0 1 906.1,347.7 L906.1,908.2 A40.2,40.2 0 0 1 865.9,948.5 L440.7,948.5 A40.2,40.2 0 0 1 400.4,908.2 L400.4,347.7 A40.2,40.2 0 0 1 440.7,307.5 Z M443.2,316.3 L864.1,316.3 A33.5,33.5 0 0 1 897.6,349.9 L897.6,906.5 A33.5,33.5 0 0 1 864.1,940.0 L443.2,940.0 A33.5,33.5 0 0 1 409.7,906.5 L409.7,349.9 A33.5,33.5 0 0 1 443.2,316.3 Z M445.8,325.2 L862.2,325.2 A26.8,26.8 0 0 1 889.0,352.0 L889.0,904.8 A26.8,26.8 0 0 1 862.2,931.6 L445.8,931.6 A26.8,26.8 0 0 1 419.0,904.8 L419.0,352.0 A26.8,26.8 0 0 1 445.8,325.2 Z M448.4,334.1 L860.3,334.1 A20.1,20.1 0 0 1 880.4,354.1 L880.4,903.1 A20.1,20.1 0 0 1 860.3,923.2 L448.4,923.2 A20.1,20.1 0 0 1 428.3,903.1 L428.3,354.1 A20.1,20.1 0 0 1 448.4,334.1 Z M450.9,342.9 L858.5,342.9 A13.4,13.4 0 0 1 871.9,356.3 L871.9,901.4 A13.4,13.4 0 0 1 858.5,914.7 L450.9,914.7 A13.4,13.4 0 0 1 437.6,901.4 L437.6,356.3 A13.4,13.4 0 0 1 450.9,342.9 Z" fill="none" stroke="#d99845" stroke-width="1.2"/><path d="M435.1,288.2 L870.0,288.2 A54.9,54.9 0 0 1 924.8,343.0 L924.8,912.0 A54.9,54.9 0 0 1 870.0,966.8 L435.1,966.8 A54.9,54.9 0 0 1 380.2,912.0 L380.2,343.0 A54.9,54.9 0 0 1 435.1,288.2 Z M437.6,297.0 L868.1,297.0 A48.2,48.2 0 0 1 916.3,345.2 L916.3,910.3 A48.2,48.2 0 0 1 868.1,958.4 L437.6,958.4 A48.2,48.2 0 0 1 389.5,910.3 L389.5,345.2 A48.2,48.2 0 0 1 437.6,297.0 Z M440.2,305.9 L866.2,305.9 A41.4,41.4 0 0 1 907.7,347.3 L907.7,908.5 A41.4,41.4 0 0 1 866.2,950.0 L440.2,950.0 A41.4,41.4 0 0 1 398.8,908.5 L398.8,347.3 A41.4,41.4 0 0 1 440.2,305.9 Z M442.8,314.7 L864.4,314.7 A34.7,34.7 0 0 1 899.1,349.5 L899.1,906.8 A34.7,34.7 0 0 1 864.4,941.5 L442.8,941.5 A34.7,34.7 0 0 1 408.0,906.8 L408.0,349.5 A34.7,34.7 0 0 1 442.8,314.7 Z M445.3,323.6 L862.5,323.6 A28.0,28.0 0 0 1 890.5,351.6 L890.5,905.1 A28.0,28.0 0 0 1 862.5,933.1 L445.3,933.1 A28.0,28.0 0 0 1 417.3,905.1 L417.3,351.6 A28.0,28.0 0 0 1 445.3,323.6 Z M447.9,332.5 L860.7,332.5 A21.3,21.3 0 0 1 882.0,353.8 L882.0,903.4 A21.3,21.3 0 0 1 860.7,924.7 L447.9,924.7 A21.3,21.3 0 0 1 426.6,903.4 L426.6,353.8 A21.3,21.3 0 0 1 447.9,332.5 Z M450.5,341.3 L858.8,341.3 A14.6,14.6 0 0 1 873.4,355.9 L873.4,901.7 A14.6,14.6 0 0 1 858.8,916.3 L450.5,916.3 A14.6,14.6 0 0 1 435.9,901.7 L435.9,355.9 A14.6,14.6 0 0 1 450.5,341.3 Z" fill="none" stroke="#925614" stroke-width="1.6"/></g><rect x="300" y="355" width="142" height="14" fill="url(#aH)"/><rect x="860" y="357" width="132" height="13" fill="url(#aH)"/><rect x="397" y="369" width="9" height="53" fill="url(#aV)"/><rect x="885" y="369" width="9" height="52" fill="url(#aV)"/><rect x="300" y="439" width="52" height="18" fill="url(#aH)"/><rect x="406" y="439" width="39" height="18" fill="url(#aH)"/><rect x="865" y="440" width="13" height="18" fill="url(#aV)"/><rect x="932" y="440" width="60" height="18" fill="url(#aH)"/><rect x="300" y="563" width="52" height="14" fill="url(#aH)"/><rect x="406" y="560" width="39" height="17" fill="url(#aH)"/><rect x="865" y="560" width="13" height="17" fill="url(#aV)"/><rect x="929" y="560" width="63" height="17" fill="url(#aH)"/><rect x="300" y="681" width="52" height="14" fill="url(#aH)"/><rect x="407" y="678" width="38" height="14" fill="url(#aH)"/><rect x="865" y="678" width="13" height="14" fill="url(#aV)"/><rect x="932" y="681" width="60" height="14" fill="url(#aH)"/><rect x="300" y="803" width="52" height="15" fill="url(#aH)"/><rect x="406" y="797" width="39" height="15" fill="url(#aH)"/><rect x="865" y="798" width="13" height="14" fill="url(#aV)"/><rect x="933" y="800" width="59" height="18" fill="url(#aH)"/><rect x="351" y="818" width="8" height="88" fill="url(#aV)"/><rect x="300" y="891" width="59" height="15" fill="url(#aH)"/><rect x="933" y="818" width="10" height="88" fill="url(#aV)"/><rect x="933" y="891" width="59" height="15" fill="url(#aH)"/><rect x="459" y="908" width="11" height="64" fill="url(#aV)"/><rect x="573" y="908" width="13" height="64" fill="url(#aV)"/><rect x="707" y="910" width="13" height="62" fill="url(#aV)"/><rect x="823" y="910" width="14" height="62" fill="url(#aV)"/><rect x="413" y="1023" width="12" height="39" fill="url(#aV)"/><rect x="572" y="1023" width="11" height="35" fill="url(#aV)"/><rect x="708" y="1023" width="12" height="39" fill="url(#aV)"/><rect x="868" y="1023" width="12" height="37" fill="url(#aV)"/><rect x="350" y="415" width="58" height="60" fill="#e8e3de"/><rect x="350" y="541" width="75" height="56" fill="#e8e3de"/><rect x="350" y="661" width="75" height="59" fill="#e8e3de"/><rect x="350" y="781" width="58" height="9" fill="#e8e3de"/><rect x="398" y="790" width="10" height="50" fill="#e8e3de"/><rect x="865" y="541" width="77" height="56" fill="#e8e3de"/><rect x="868" y="418" width="73" height="58" fill="#e8e3de"/><rect x="865" y="661" width="77" height="59" fill="#e8e3de"/><rect x="880" y="781" width="61" height="9" fill="#e8e3de"/><rect x="932" y="790" width="9" height="50" fill="#e8e3de"/><rect x="404" y="965" width="59" height="61" fill="#e8e3de"/><rect x="543" y="965" width="61" height="61" fill="#e8e3de"/><rect x="681" y="965" width="59" height="61" fill="#e8e3de"/><rect x="819" y="965" width="63" height="61" fill="#e8e3de"/><rect x="405" y="595" width="21" height="65" fill="#e63a3c"/><rect x="865" y="597" width="20" height="63" fill="#e63a3c"/><rect x="445" y="409" width="420" height="499" fill="#348469"/><g stroke="#22684f" stroke-width="2" stroke-dasharray="18 5"><line x1="449.0" y1="409" x2="449.0" y2="842"/><line x1="457.9" y1="409" x2="457.9" y2="842"/><line x1="466.8" y1="409" x2="466.8" y2="842"/><line x1="475.7" y1="409" x2="475.7" y2="842"/><line x1="484.6" y1="409" x2="484.6" y2="842"/><line x1="493.5" y1="409" x2="493.5" y2="842"/><line x1="502.4" y1="409" x2="502.4" y2="842"/><line x1="511.3" y1="409" x2="511.3" y2="842"/><line x1="520.2" y1="409" x2="520.2" y2="842"/><line x1="529.1" y1="409" x2="529.1" y2="842"/><line x1="770.0" y1="409" x2="770.0" y2="842"/><line x1="778.9" y1="409" x2="778.9" y2="842"/><line x1="787.8" y1="409" x2="787.8" y2="842"/><line x1="796.7" y1="409" x2="796.7" y2="842"/><line x1="805.6" y1="409" x2="805.6" y2="842"/><line x1="814.5" y1="409" x2="814.5" y2="842"/><line x1="823.4" y1="409" x2="823.4" y2="842"/><line x1="832.3" y1="409" x2="832.3" y2="842"/><line x1="841.2" y1="409" x2="841.2" y2="842"/><line x1="850.1" y1="409" x2="850.1" y2="842"/><line x1="859.0" y1="409" x2="859.0" y2="842"/></g><g stroke="#22684f" stroke-width="1.8" stroke-dasharray="16 4"><line x1="445" y1="849.0" x2="865" y2="849.0"/><line x1="445" y1="857.3" x2="865" y2="857.3"/><line x1="445" y1="865.6" x2="865" y2="865.6"/><line x1="445" y1="873.9" x2="865" y2="873.9"/><line x1="445" y1="882.2" x2="865" y2="882.2"/><line x1="445" y1="890.5" x2="865" y2="890.5"/><line x1="445" y1="898.8" x2="865" y2="898.8"/></g><g stroke="#3f9075" stroke-width="1.2"><line x1="445" y1="412.0" x2="531" y2="412.0"/><line x1="765" y1="412.0" x2="865" y2="412.0"/><line x1="445" y1="435.0" x2="531" y2="435.0"/><line x1="765" y1="435.0" x2="865" y2="435.0"/><line x1="445" y1="458.0" x2="531" y2="458.0"/><line x1="765" y1="458.0" x2="865" y2="458.0"/><line x1="445" y1="481.0" x2="531" y2="481.0"/><line x1="765" y1="481.0" x2="865" y2="481.0"/><line x1="445" y1="504.0" x2="531" y2="504.0"/><line x1="765" y1="504.0" x2="865" y2="504.0"/><line x1="445" y1="527.0" x2="531" y2="527.0"/><line x1="765" y1="527.0" x2="865" y2="527.0"/><line x1="445" y1="550.0" x2="531" y2="550.0"/><line x1="765" y1="550.0" x2="865" y2="550.0"/><line x1="445" y1="573.0" x2="531" y2="573.0"/><line x1="765" y1="573.0" x2="865" y2="573.0"/><line x1="445" y1="596.0" x2="531" y2="596.0"/><line x1="765" y1="596.0" x2="865" y2="596.0"/><line x1="445" y1="619.0" x2="531" y2="619.0"/><line x1="765" y1="619.0" x2="865" y2="619.0"/><line x1="445" y1="642.0" x2="531" y2="642.0"/><line x1="765" y1="642.0" x2="865" y2="642.0"/><line x1="445" y1="665.0" x2="531" y2="665.0"/><line x1="765" y1="665.0" x2="865" y2="665.0"/><line x1="445" y1="688.0" x2="531" y2="688.0"/><line x1="765" y1="688.0" x2="865" y2="688.0"/><line x1="445" y1="711.0" x2="531" y2="711.0"/><line x1="765" y1="711.0" x2="865" y2="711.0"/><line x1="445" y1="734.0" x2="531" y2="734.0"/><line x1="765" y1="734.0" x2="865" y2="734.0"/><line x1="445" y1="757.0" x2="531" y2="757.0"/><line x1="765" y1="757.0" x2="865" y2="757.0"/><line x1="445" y1="780.0" x2="531" y2="780.0"/><line x1="765" y1="780.0" x2="865" y2="780.0"/><line x1="445" y1="803.0" x2="531" y2="803.0"/><line x1="765" y1="803.0" x2="865" y2="803.0"/><line x1="445" y1="826.0" x2="531" y2="826.0"/><line x1="765" y1="826.0" x2="865" y2="826.0"/></g><rect x="499" y="409" width="3" height="433" fill="#3d917a"/><rect x="808" y="409" width="3" height="433" fill="#3d917a"/><rect x="489" y="262" width="317" height="151" fill="#e9e1d8"/><g stroke="#d2c6b9" stroke-width="1"><line x1="490" y1="264.5" x2="805" y2="264.5"/><line x1="490" y1="274.1" x2="805" y2="274.1"/><line x1="490" y1="283.7" x2="805" y2="283.7"/><line x1="490" y1="293.3" x2="805" y2="293.3"/><line x1="490" y1="302.9" x2="805" y2="302.9"/><line x1="490" y1="312.5" x2="805" y2="312.5"/><line x1="490" y1="322.1" x2="805" y2="322.1"/><line x1="490" y1="331.7" x2="805" y2="331.7"/><line x1="490" y1="341.3" x2="805" y2="341.3"/><line x1="490" y1="350.9" x2="805" y2="350.9"/><line x1="490" y1="360.5" x2="805" y2="360.5"/><line x1="490" y1="370.1" x2="805" y2="370.1"/><line x1="490" y1="379.7" x2="805" y2="379.7"/><line x1="490" y1="389.3" x2="805" y2="389.3"/><line x1="490" y1="398.9" x2="805" y2="398.9"/><line x1="490" y1="408.5" x2="805" y2="408.5"/></g><g stroke="#ad9e8e" stroke-width="1.8" stroke-dasharray="3 1.4"><line x1="508" y1="271.5" x2="557" y2="271.5"/><line x1="565" y1="271.5" x2="585" y2="271.5"/><line x1="591" y1="271.5" x2="634" y2="271.5"/><line x1="660" y1="271.5" x2="703" y2="271.5"/><line x1="708" y1="271.5" x2="725" y2="271.5"/><line x1="738" y1="271.5" x2="786" y2="271.5"/><line x1="508" y1="281.1" x2="557" y2="281.1"/><line x1="565" y1="281.1" x2="585" y2="281.1"/><line x1="591" y1="281.1" x2="634" y2="281.1"/><line x1="660" y1="281.1" x2="703" y2="281.1"/><line x1="708" y1="281.1" x2="725" y2="281.1"/><line x1="738" y1="281.1" x2="786" y2="281.1"/><line x1="508" y1="290.7" x2="557" y2="290.7"/><line x1="565" y1="290.7" x2="585" y2="290.7"/><line x1="591" y1="290.7" x2="634" y2="290.7"/><line x1="660" y1="290.7" x2="703" y2="290.7"/><line x1="708" y1="290.7" x2="725" y2="290.7"/><line x1="738" y1="290.7" x2="786" y2="290.7"/><line x1="508" y1="300.3" x2="557" y2="300.3"/><line x1="565" y1="300.3" x2="585" y2="300.3"/><line x1="591" y1="300.3" x2="634" y2="300.3"/><line x1="660" y1="300.3" x2="703" y2="300.3"/><line x1="708" y1="300.3" x2="725" y2="300.3"/><line x1="738" y1="300.3" x2="786" y2="300.3"/><line x1="508" y1="309.9" x2="557" y2="309.9"/><line x1="565" y1="309.9" x2="585" y2="309.9"/><line x1="591" y1="309.9" x2="634" y2="309.9"/><line x1="660" y1="309.9" x2="703" y2="309.9"/><line x1="708" y1="309.9" x2="725" y2="309.9"/><line x1="738" y1="309.9" x2="786" y2="309.9"/><line x1="508" y1="319.5" x2="557" y2="319.5"/><line x1="565" y1="319.5" x2="585" y2="319.5"/><line x1="591" y1="319.5" x2="634" y2="319.5"/><line x1="660" y1="319.5" x2="703" y2="319.5"/><line x1="708" y1="319.5" x2="725" y2="319.5"/><line x1="738" y1="319.5" x2="786" y2="319.5"/><line x1="508" y1="329.1" x2="557" y2="329.1"/><line x1="565" y1="329.1" x2="585" y2="329.1"/><line x1="591" y1="329.1" x2="634" y2="329.1"/><line x1="660" y1="329.1" x2="703" y2="329.1"/><line x1="708" y1="329.1" x2="725" y2="329.1"/><line x1="738" y1="329.1" x2="786" y2="329.1"/><line x1="508" y1="338.7" x2="557" y2="338.7"/><line x1="565" y1="338.7" x2="585" y2="338.7"/><line x1="591" y1="338.7" x2="634" y2="338.7"/><line x1="660" y1="338.7" x2="703" y2="338.7"/><line x1="708" y1="338.7" x2="725" y2="338.7"/><line x1="738" y1="338.7" x2="786" y2="338.7"/><line x1="508" y1="348.3" x2="557" y2="348.3"/><line x1="565" y1="348.3" x2="585" y2="348.3"/><line x1="591" y1="348.3" x2="634" y2="348.3"/><line x1="660" y1="348.3" x2="703" y2="348.3"/><line x1="708" y1="348.3" x2="725" y2="348.3"/><line x1="738" y1="348.3" x2="786" y2="348.3"/><line x1="508" y1="357.9" x2="557" y2="357.9"/><line x1="565" y1="357.9" x2="585" y2="357.9"/><line x1="591" y1="357.9" x2="634" y2="357.9"/><line x1="660" y1="357.9" x2="703" y2="357.9"/><line x1="708" y1="357.9" x2="725" y2="357.9"/><line x1="738" y1="357.9" x2="786" y2="357.9"/><line x1="508" y1="367.5" x2="557" y2="367.5"/><line x1="565" y1="367.5" x2="585" y2="367.5"/><line x1="591" y1="367.5" x2="634" y2="367.5"/><line x1="660" y1="367.5" x2="703" y2="367.5"/><line x1="708" y1="367.5" x2="725" y2="367.5"/><line x1="738" y1="367.5" x2="786" y2="367.5"/><line x1="508" y1="377.1" x2="557" y2="377.1"/><line x1="565" y1="377.1" x2="585" y2="377.1"/><line x1="591" y1="377.1" x2="634" y2="377.1"/><line x1="660" y1="377.1" x2="703" y2="377.1"/><line x1="708" y1="377.1" x2="725" y2="377.1"/><line x1="738" y1="377.1" x2="786" y2="377.1"/><line x1="508" y1="386.7" x2="557" y2="386.7"/><line x1="565" y1="386.7" x2="585" y2="386.7"/><line x1="591" y1="386.7" x2="634" y2="386.7"/><line x1="660" y1="386.7" x2="703" y2="386.7"/><line x1="708" y1="386.7" x2="725" y2="386.7"/><line x1="738" y1="386.7" x2="786" y2="386.7"/><line x1="508" y1="396.3" x2="557" y2="396.3"/><line x1="565" y1="396.3" x2="585" y2="396.3"/><line x1="591" y1="396.3" x2="634" y2="396.3"/><line x1="660" y1="396.3" x2="703" y2="396.3"/><line x1="708" y1="396.3" x2="725" y2="396.3"/><line x1="738" y1="396.3" x2="786" y2="396.3"/><line x1="508" y1="405.9" x2="557" y2="405.9"/><line x1="565" y1="405.9" x2="585" y2="405.9"/><line x1="591" y1="405.9" x2="634" y2="405.9"/><line x1="660" y1="405.9" x2="703" y2="405.9"/><line x1="708" y1="405.9" x2="725" y2="405.9"/><line x1="738" y1="405.9" x2="786" y2="405.9"/></g><g stroke="#f8eee4" stroke-width="2" stroke-dasharray="3 1.4"><line x1="508" y1="269.0" x2="557" y2="269.0"/><line x1="565" y1="269.0" x2="585" y2="269.0"/><line x1="591" y1="269.0" x2="634" y2="269.0"/><line x1="660" y1="269.0" x2="703" y2="269.0"/><line x1="708" y1="269.0" x2="725" y2="269.0"/><line x1="738" y1="269.0" x2="786" y2="269.0"/><line x1="508" y1="278.6" x2="557" y2="278.6"/><line x1="565" y1="278.6" x2="585" y2="278.6"/><line x1="591" y1="278.6" x2="634" y2="278.6"/><line x1="660" y1="278.6" x2="703" y2="278.6"/><line x1="708" y1="278.6" x2="725" y2="278.6"/><line x1="738" y1="278.6" x2="786" y2="278.6"/><line x1="508" y1="288.2" x2="557" y2="288.2"/><line x1="565" y1="288.2" x2="585" y2="288.2"/><line x1="591" y1="288.2" x2="634" y2="288.2"/><line x1="660" y1="288.2" x2="703" y2="288.2"/><line x1="708" y1="288.2" x2="725" y2="288.2"/><line x1="738" y1="288.2" x2="786" y2="288.2"/><line x1="508" y1="297.8" x2="557" y2="297.8"/><line x1="565" y1="297.8" x2="585" y2="297.8"/><line x1="591" y1="297.8" x2="634" y2="297.8"/><line x1="660" y1="297.8" x2="703" y2="297.8"/><line x1="708" y1="297.8" x2="725" y2="297.8"/><line x1="738" y1="297.8" x2="786" y2="297.8"/><line x1="508" y1="307.4" x2="557" y2="307.4"/><line x1="565" y1="307.4" x2="585" y2="307.4"/><line x1="591" y1="307.4" x2="634" y2="307.4"/><line x1="660" y1="307.4" x2="703" y2="307.4"/><line x1="708" y1="307.4" x2="725" y2="307.4"/><line x1="738" y1="307.4" x2="786" y2="307.4"/><line x1="508" y1="317.0" x2="557" y2="317.0"/><line x1="565" y1="317.0" x2="585" y2="317.0"/><line x1="591" y1="317.0" x2="634" y2="317.0"/><line x1="660" y1="317.0" x2="703" y2="317.0"/><line x1="708" y1="317.0" x2="725" y2="317.0"/><line x1="738" y1="317.0" x2="786" y2="317.0"/><line x1="508" y1="326.6" x2="557" y2="326.6"/><line x1="565" y1="326.6" x2="585" y2="326.6"/><line x1="591" y1="326.6" x2="634" y2="326.6"/><line x1="660" y1="326.6" x2="703" y2="326.6"/><line x1="708" y1="326.6" x2="725" y2="326.6"/><line x1="738" y1="326.6" x2="786" y2="326.6"/><line x1="508" y1="336.2" x2="557" y2="336.2"/><line x1="565" y1="336.2" x2="585" y2="336.2"/><line x1="591" y1="336.2" x2="634" y2="336.2"/><line x1="660" y1="336.2" x2="703" y2="336.2"/><line x1="708" y1="336.2" x2="725" y2="336.2"/><line x1="738" y1="336.2" x2="786" y2="336.2"/><line x1="508" y1="345.8" x2="557" y2="345.8"/><line x1="565" y1="345.8" x2="585" y2="345.8"/><line x1="591" y1="345.8" x2="634" y2="345.8"/><line x1="660" y1="345.8" x2="703" y2="345.8"/><line x1="708" y1="345.8" x2="725" y2="345.8"/><line x1="738" y1="345.8" x2="786" y2="345.8"/><line x1="508" y1="355.4" x2="557" y2="355.4"/><line x1="565" y1="355.4" x2="585" y2="355.4"/><line x1="591" y1="355.4" x2="634" y2="355.4"/><line x1="660" y1="355.4" x2="703" y2="355.4"/><line x1="708" y1="355.4" x2="725" y2="355.4"/><line x1="738" y1="355.4" x2="786" y2="355.4"/><line x1="508" y1="365.0" x2="557" y2="365.0"/><line x1="565" y1="365.0" x2="585" y2="365.0"/><line x1="591" y1="365.0" x2="634" y2="365.0"/><line x1="660" y1="365.0" x2="703" y2="365.0"/><line x1="708" y1="365.0" x2="725" y2="365.0"/><line x1="738" y1="365.0" x2="786" y2="365.0"/><line x1="508" y1="374.6" x2="557" y2="374.6"/><line x1="565" y1="374.6" x2="585" y2="374.6"/><line x1="591" y1="374.6" x2="634" y2="374.6"/><line x1="660" y1="374.6" x2="703" y2="374.6"/><line x1="708" y1="374.6" x2="725" y2="374.6"/><line x1="738" y1="374.6" x2="786" y2="374.6"/><line x1="508" y1="384.2" x2="557" y2="384.2"/><line x1="565" y1="384.2" x2="585" y2="384.2"/><line x1="591" y1="384.2" x2="634" y2="384.2"/><line x1="660" y1="384.2" x2="703" y2="384.2"/><line x1="708" y1="384.2" x2="725" y2="384.2"/><line x1="738" y1="384.2" x2="786" y2="384.2"/><line x1="508" y1="393.8" x2="557" y2="393.8"/><line x1="565" y1="393.8" x2="585" y2="393.8"/><line x1="591" y1="393.8" x2="634" y2="393.8"/><line x1="660" y1="393.8" x2="703" y2="393.8"/><line x1="708" y1="393.8" x2="725" y2="393.8"/><line x1="738" y1="393.8" x2="786" y2="393.8"/><line x1="508" y1="403.4" x2="557" y2="403.4"/><line x1="565" y1="403.4" x2="585" y2="403.4"/><line x1="591" y1="403.4" x2="634" y2="403.4"/><line x1="660" y1="403.4" x2="703" y2="403.4"/><line x1="708" y1="403.4" x2="725" y2="403.4"/><line x1="738" y1="403.4" x2="786" y2="403.4"/></g><rect x="636" y="296" width="22" height="117" fill="#ebe5df"/><rect x="635" y="292" width="23" height="5" fill="#27384a"/><rect x="568" y="311" width="17" height="5" fill="#27384a"/><rect x="707" y="311" width="17" height="5" fill="#27384a"/><rect x="568" y="316" width="17" height="40" fill="#ebe5df"/><rect x="707" y="316" width="17" height="40" fill="#ebe5df"/><rect x="509" y="336" width="27" height="17" fill="#2f8a6b"/><rect x="756" y="336" width="27" height="17" fill="#2f8a6b"/><rect x="490" y="358" width="77" height="7" fill="#f1ede8"/><rect x="725" y="358" width="80" height="7" fill="#f1ede8"/><path d="M490,365 L567,365 L567,356 L587,356 L587,409 L574,409 L574,383 L490,383 Z" fill="#2f8a6b"/><path d="M802,365 L725,365 L725,356 L706,356 L706,390 L718,390 L718,383 L802,383 Z" fill="#2f8a6b"/><g stroke="#247055" stroke-width="1.2"><line x1="490" y1="369.5" x2="574" y2="369.5"/><line x1="718" y1="369.5" x2="802" y2="369.5"/><line x1="490" y1="374" x2="574" y2="374"/><line x1="718" y1="374" x2="802" y2="374"/><line x1="490" y1="378.5" x2="574" y2="378.5"/><line x1="718" y1="378.5" x2="802" y2="378.5"/></g><rect x="446" y="386" width="121" height="23" fill="#3b4a55"/><rect x="450" y="390" width="117" height="18" fill="#efe9e2"/><rect x="726" y="386" width="31" height="4" fill="#3b4a55"/><rect x="724" y="390" width="141" height="19" fill="#efe9e2"/><rect x="802" y="392" width="40" height="2" fill="#5a6570"/><rect x="842" y="398" width="4" height="11" fill="#5a6570"/><rect x="802" y="346" width="22" height="45" fill="#ece6de"/><rect x="484" y="346" width="6" height="45" fill="#ece6de"/><rect x="476" y="848" width="44" height="14" fill="#ece6de"/><rect x="476" y="866" width="74" height="5" fill="#ece6de"/><rect x="777" y="848" width="37" height="14" fill="#ece6de"/><rect x="743" y="866" width="71" height="5" fill="#ece6de"/><rect x="531" y="413" width="221" height="428" fill="#fb7717"/><rect x="752" y="413" width="13" height="428" fill="#ece3d9"/><rect x="761" y="413" width="4" height="428" fill="#d9d1c9"/><path d="M752,413 L752,413 L753.6,416 L752,419 L753.6,422 L752,425 L753.6,428 L752,431 L753.6,434 L752,437 L753.6,440 L752,443 L753.6,446 L752,449 L753.6,452 L752,455 L753.6,458 L752,461 L753.6,464 L752,467 L753.6,470 L752,473 L753.6,476 L752,479 L753.6,482 L752,485 L753.6,488 L752,491 L753.6,494 L752,497 L753.6,500 L752,503 L753.6,506 L752,509 L753.6,512 L752,515 L753.6,518 L752,521 L753.6,524 L752,527 L753.6,530 L752,533 L753.6,536 L752,539 L753.6,542 L752,545 L753.6,548 L752,551 L753.6,554 L752,557 L753.6,560 L752,563 L753.6,566 L752,569 L753.6,572 L752,575 L753.6,578 L752,581 L753.6,584 L752,587 L753.6,590 L752,593 L753.6,596 L752,599 L753.6,602 L752,605 L753.6,608 L752,611 L753.6,614 L752,617 L753.6,620 L752,623 L753.6,626 L752,629 L753.6,632 L752,635 L753.6,638 L752,641 L753.6,644 L752,647 L753.6,650 L752,653 L753.6,656 L752,659 L753.6,662 L752,665 L753.6,668 L752,671 L753.6,674 L752,677 L753.6,680 L752,683 L753.6,686 L752,689 L753.6,692 L752,695 L753.6,698 L752,701 L753.6,704 L752,707 L753.6,710 L752,713 L753.6,716 L752,719 L753.6,722 L752,725 L753.6,728 L752,731 L753.6,734 L752,737 L753.6,740 L752,743 L753.6,746 L752,749 L753.6,752 L752,755 L753.6,758 L752,761 L753.6,764 L752,767 L753.6,770 L752,773 L753.6,776 L752,779 L753.6,782 L752,785 L753.6,788 L752,791 L753.6,794 L752,797 L753.6,800 L752,803 L753.6,806 L752,809 L753.6,812 L752,815 L753.6,818 L752,821 L753.6,824 L752,827 L753.6,830 L752,833 L753.6,836 L752,839 L748,841 L748,413 Z" fill="#fb7717"/><g stroke="#f7b57a" stroke-width="1" fill="none"><rect x="594" y="512" width="105" height="230"/><line x1="606" y1="512" x2="606" y2="742"/><line x1="686" y1="512" x2="686" y2="742"/><line x1="606" y1="565" x2="686" y2="565"/><line x1="606" y1="689" x2="686" y2="689"/><line x1="646" y1="565" x2="646" y2="689"/></g><g stroke="#f3c9a0" stroke-width="1" opacity="0.8"><line x1="582" y1="800" x2="588" y2="800"/><line x1="582" y1="454" x2="588" y2="454"/><line x1="643" y1="800" x2="649" y2="800"/><line x1="643" y1="454" x2="649" y2="454"/><line x1="695" y1="800" x2="701" y2="800"/><line x1="695" y1="454" x2="701" y2="454"/></g><rect x="591" y="431" width="6" height="7" fill="#f3e7d8"/><rect x="591" y="431" width="6" height="3" fill="#3b7a5a"/><rect x="643" y="431" width="6" height="7" fill="#f3e7d8"/><rect x="643" y="431" width="6" height="3" fill="#3b7a5a"/><rect x="695" y="431" width="6" height="7" fill="#f3e7d8"/><rect x="695" y="431" width="6" height="3" fill="#3b7a5a"/><rect x="582" y="815" width="6" height="7" fill="#f3e7d8"/><rect x="582" y="815" width="6" height="3" fill="#3b7a5a"/><rect x="643" y="815" width="6" height="7" fill="#f3e7d8"/><rect x="643" y="815" width="6" height="3" fill="#3b7a5a"/><rect x="695" y="815" width="6" height="7" fill="#f3e7d8"/><rect x="695" y="815" width="6" height="3" fill="#3b7a5a"/><line x1="594" y1="627" x2="699" y2="627" stroke="#f59a55" stroke-width="1"/><rect x="549" y="510" width="4" height="4" fill="#f3e2cc"/><rect x="549" y="563" width="4" height="4" fill="#f3e2cc"/><rect x="549" y="687" width="4" height="4" fill="#f3e2cc"/><rect x="549" y="739" width="4" height="4" fill="#f3e2cc"/><rect x="549" y="610" width="6" height="7" fill="#2e7d63"/><rect x="549" y="636" width="6" height="7" fill="#2e7d63"/><rect x="562" y="622" width="12" height="10" fill="#2e7d63"/><rect x="569" y="622" width="5" height="10" fill="#f2ede6"/><circle cx="559" cy="619.5" r="1.5" fill="#3a3a2a"/><circle cx="559" cy="634" r="1.5" fill="#3a3a2a"/><path d="M564.5,590 V614 M564.5,641 V664" stroke="#f6e3cf" stroke-width="2" stroke-dasharray="4 2"/><rect x="709" y="624" width="10" height="7" fill="#3c6c6c"/><rect x="404" y="138" width="59" height="52" rx="13" fill="#050505"/><path transform="translate(420.50,148.50) scale(1.0)" d="M0,0 H4.2 V13.6 L7.8,11.6 V5 L12,3.6 V26 H7.8 V16.4 L0,20.6 Z" fill="#fff" fill-rule="evenodd"/><path transform="translate(434.50,148.50) scale(1.0)" d="M0,0 H12 V4 H4.2 V12 L10.4,8.6 L12,10 V24.4 L10.4,26 H1.6 L0,24.4 V19 H4.2 V22 H7.8 V13.8 L0,17.8 Z" fill="#fff" fill-rule="evenodd"/><rect x="620" y="138" width="59" height="52" rx="13" fill="#050505"/><path transform="translate(636.50,148.50) scale(1.0)" d="M0,0 H4.2 V13.6 L7.8,11.6 V5 L12,3.6 V26 H7.8 V16.4 L0,20.6 Z" fill="#fff" fill-rule="evenodd"/><path transform="translate(650.50,148.50) scale(1.0)" d="M1.6,0 H10.4 L12,1.6 V4.2 L4.2,7.6 V9.6 H10.4 L12,11.2 V24.4 L10.4,26 H1.6 L0,24.4 V1.6 Z M4.2,13.2 V22 H7.8 V13.2 Z" fill="#fff" fill-rule="evenodd"/><rect x="835" y="138" width="56" height="52" rx="13" fill="#050505"/><path transform="translate(850.00,148.50) scale(1.0)" d="M0,0 H4.2 V13.6 L7.8,11.6 V5 L12,3.6 V26 H7.8 V16.4 L0,20.6 Z" fill="#fff" fill-rule="evenodd"/><path transform="translate(864.00,148.50) scale(1.0)" d="M0,0 H12 V4.5 L8.2,26 H3.8 L7.6,4.3 H0 Z" fill="#fff" fill-rule="evenodd"/><rect x="230" y="192" width="57" height="51" rx="13" fill="#050505"/><path transform="translate(245.50,202.00) scale(1.0)" d="M0,0 H4.2 V13.6 L7.8,11.6 V5 L12,3.6 V26 H7.8 V16.4 L0,20.6 Z" fill="#fff" fill-rule="evenodd"/><path transform="translate(259.50,202.00) scale(1.0)" d="M0,0 H4.2 V13.6 L7.8,11.6 V5 L12,3.6 V26 H7.8 V16.4 L0,20.6 Z" fill="#fff" fill-rule="evenodd"/><rect x="1008" y="192" width="59" height="51" rx="13" fill="#050505"/><path transform="translate(1024.50,202.00) scale(1.0)" d="M0,0 H4.2 V13.6 L7.8,11.6 V5 L12,3.6 V26 H7.8 V16.4 L0,20.6 Z" fill="#fff" fill-rule="evenodd"/><path transform="translate(1038.50,202.00) scale(1.0)" d="M1.6,0 H10.4 L12,1.6 V11.2 L11,13 L12,14.8 V24.4 L10.4,26 H1.6 L0,24.4 V14.8 L1,13 L0,11.2 V1.6 Z M4.2,4 V10.8 H7.8 V4 Z M4.2,15.4 V22 H7.8 V15.4 Z" fill="#fff" fill-rule="evenodd"/><rect x="202" y="422" width="58" height="51" rx="13" fill="#050505"/><path transform="translate(218.00,432.00) scale(1.0)" d="M0,0 H4.2 V13.6 L7.8,11.6 V5 L12,3.6 V26 H7.8 V16.4 L0,20.6 Z" fill="#fff" fill-rule="evenodd"/><path transform="translate(232.00,432.00) scale(1.0)" d="M1.6,0 H10.4 L12,1.6 V24.4 L10.4,26 H1.6 L0,24.4 V18.5 H4.2 V22 H7.8 V14.8 H3.6 V11 H7.8 V4 H4.2 V7.5 H0 V1.6 Z" fill="#fff" fill-rule="evenodd"/><rect x="202" y="601" width="58" height="51" rx="13" fill="#050505"/><path transform="translate(218.00,611.00) scale(1.0)" d="M0,0 H4.2 V13.6 L7.8,11.6 V5 L12,3.6 V26 H7.8 V16.4 L0,20.6 Z" fill="#fff" fill-rule="evenodd"/><path transform="translate(232.00,611.00) scale(1.0)" d="M1.6,0 H10.4 L12,1.6 V12.2 L4.2,19.8 V22 H12 V26 H0 V18.2 L7.8,10.6 V4 H4.2 V7.5 H0 V1.6 Z" fill="#fff" fill-rule="evenodd"/><rect x="205" y="787" width="54" height="51" rx="13" fill="#050505"/><path transform="translate(220.80,797.00) scale(1.0)" d="M0,0 H4.2 V13.6 L7.8,11.6 V5 L12,3.6 V26 H7.8 V16.4 L0,20.6 Z" fill="#fff" fill-rule="evenodd"/><path transform="translate(234.80,797.00) scale(1.0)" d="M2.6,0 H8.4 V26 H2.8 V6 L0,7 V3 Z" fill="#fff" fill-rule="evenodd"/><rect x="203" y="972" width="58" height="51" rx="13" fill="#050505"/><path transform="translate(219.00,982.00) scale(1.0)" d="M0,0 H4.2 V13.6 L7.8,11.6 V5 L12,3.6 V26 H7.8 V16.4 L0,20.6 Z" fill="#fff" fill-rule="evenodd"/><path transform="translate(233.00,982.00) scale(1.0)" d="M1.6,0 H10.4 L12,1.6 V24.4 L10.4,26 H1.6 L0,24.4 V1.6 Z M4.2,4 V22 H7.8 V4 Z" fill="#fff" fill-rule="evenodd"/><rect x="1033" y="421" width="57" height="51" rx="13" fill="#050505"/><path transform="translate(1048.50,431.00) scale(1.0)" d="M0,0 H4.2 V13.6 L7.8,11.6 V5 L12,3.6 V26 H7.8 V16.4 L0,20.6 Z" fill="#fff" fill-rule="evenodd"/><path transform="translate(1074.50,457.00) scale(-1.0,-1.0)" d="M1.6,0 H10.4 L12,1.6 V4.2 L4.2,7.6 V9.6 H10.4 L12,11.2 V24.4 L10.4,26 H1.6 L0,24.4 V1.6 Z M4.2,13.2 V22 H7.8 V13.2 Z" fill="#fff" fill-rule="evenodd"/><rect x="1033" y="601" width="57" height="50" rx="13" fill="#050505"/><path transform="translate(1048.50,610.50) scale(1.0)" d="M0,0 H12 V4 H4.2 V12 L10.4,8.6 L12,10 V24.4 L10.4,26 H1.6 L0,24.4 V19 H4.2 V22 H7.8 V13.8 L0,17.8 Z" fill="#fff" fill-rule="evenodd"/><path transform="translate(1062.50,610.50) scale(1.0)" d="M1.6,0 H10.4 L12,1.6 V24.4 L10.4,26 H1.6 L0,24.4 V1.6 Z M4.2,4 V22 H7.8 V4 Z" fill="#fff" fill-rule="evenodd"/><rect x="1039" y="787" width="54" height="51" rx="13" fill="#050505"/><path transform="translate(1054.80,797.00) scale(1.0)" d="M0,0 H12 V4 H4.2 V12 L10.4,8.6 L12,10 V24.4 L10.4,26 H1.6 L0,24.4 V19 H4.2 V22 H7.8 V13.8 L0,17.8 Z" fill="#fff" fill-rule="evenodd"/><path transform="translate(1068.80,797.00) scale(1.0)" d="M2.6,0 H8.4 V26 H2.8 V6 L0,7 V3 Z" fill="#fff" fill-rule="evenodd"/><rect x="1024" y="972" width="59" height="51" rx="13" fill="#050505"/><path transform="translate(1040.50,982.00) scale(1.0)" d="M0,0 H12 V4 H4.2 V12 L10.4,8.6 L12,10 V24.4 L10.4,26 H1.6 L0,24.4 V19 H4.2 V22 H7.8 V13.8 L0,17.8 Z" fill="#fff" fill-rule="evenodd"/><path transform="translate(1054.50,982.00) scale(1.0)" d="M1.6,0 H10.4 L12,1.6 V12.2 L4.2,19.8 V22 H12 V26 H0 V18.2 L7.8,10.6 V4 H4.2 V7.5 H0 V1.6 Z" fill="#fff" fill-rule="evenodd"/><rect x="352" y="422" width="54" height="51" rx="13" fill="#050505"/><path transform="translate(367.80,432.00) scale(1.0)" d="M2.6,0 H8.4 V26 H2.8 V6 L0,7 V3 Z" fill="#fff" fill-rule="evenodd"/><path transform="translate(390.20,458.00) scale(-1.0,-1.0)" d="M1.6,0 H10.4 L12,1.6 V4.2 L4.2,7.6 V9.6 H10.4 L12,11.2 V24.4 L10.4,26 H1.6 L0,24.4 V1.6 Z M4.2,13.2 V22 H7.8 V13.2 Z" fill="#fff" fill-rule="evenodd"/><rect x="352" y="543" width="54" height="52" rx="13" fill="#050505"/><path transform="translate(367.80,553.50) scale(1.0)" d="M2.6,0 H8.4 V26 H2.8 V6 L0,7 V3 Z" fill="#fff" fill-rule="evenodd"/><path transform="translate(378.20,553.50) scale(1.0)" d="M1.6,0 H10.4 L12,1.6 V11.2 L11,13 L12,14.8 V24.4 L10.4,26 H1.6 L0,24.4 V14.8 L1,13 L0,11.2 V1.6 Z M4.2,4 V10.8 H7.8 V4 Z M4.2,15.4 V22 H7.8 V15.4 Z" fill="#fff" fill-rule="evenodd"/><rect x="352" y="664" width="55" height="52" rx="13" fill="#050505"/><path transform="translate(368.30,674.50) scale(1.0)" d="M2.6,0 H8.4 V26 H2.8 V6 L0,7 V3 Z" fill="#fff" fill-rule="evenodd"/><path transform="translate(378.70,674.50) scale(1.0)" d="M0,0 H12 V4.5 L8.2,26 H3.8 L7.6,4.3 H0 Z" fill="#fff" fill-rule="evenodd"/><rect x="352" y="787" width="54" height="51" rx="13" fill="#050505"/><path transform="translate(367.80,797.00) scale(1.0)" d="M2.6,0 H8.4 V26 H2.8 V6 L0,7 V3 Z" fill="#fff" fill-rule="evenodd"/><path transform="translate(378.20,797.00) scale(1.0)" d="M1.6,0 H10.4 L12,1.6 V4.2 L4.2,7.6 V9.6 H10.4 L12,11.2 V24.4 L10.4,26 H1.6 L0,24.4 V1.6 Z M4.2,13.2 V22 H7.8 V13.2 Z" fill="#fff" fill-rule="evenodd"/><rect x="878" y="421" width="54" height="52" rx="13" fill="#050505"/><path transform="translate(893.80,431.50) scale(1.0)" d="M2.6,0 H8.4 V26 H2.8 V6 L0,7 V3 Z" fill="#fff" fill-rule="evenodd"/><path transform="translate(904.20,431.50) scale(1.0)" d="M1.6,0 H10.4 L12,1.6 V24.4 L10.4,26 H1.6 L0,24.4 V1.6 Z M4.2,4 V22 H7.8 V4 Z" fill="#fff" fill-rule="evenodd"/><rect x="878" y="543" width="51" height="51" rx="13" fill="#050505"/><path transform="translate(894.10,553.00) scale(1.0)" d="M2.6,0 H8.4 V26 H2.8 V6 L0,7 V3 Z" fill="#fff" fill-rule="evenodd"/><path transform="translate(904.50,553.00) scale(1.0)" d="M2.6,0 H8.4 V26 H2.8 V6 L0,7 V3 Z" fill="#fff" fill-rule="evenodd"/><rect x="878" y="664" width="54" height="52" rx="13" fill="#050505"/><path transform="translate(893.80,674.50) scale(1.0)" d="M2.6,0 H8.4 V26 H2.8 V6 L0,7 V3 Z" fill="#fff" fill-rule="evenodd"/><path transform="translate(904.20,674.50) scale(1.0)" d="M1.6,0 H10.4 L12,1.6 V12.2 L4.2,19.8 V22 H12 V26 H0 V18.2 L7.8,10.6 V4 H4.2 V7.5 H0 V1.6 Z" fill="#fff" fill-rule="evenodd"/><rect x="878" y="787" width="55" height="51" rx="13" fill="#050505"/><path transform="translate(894.30,797.00) scale(1.0)" d="M2.6,0 H8.4 V26 H2.8 V6 L0,7 V3 Z" fill="#fff" fill-rule="evenodd"/><path transform="translate(904.70,797.00) scale(1.0)" d="M1.6,0 H10.4 L12,1.6 V24.4 L10.4,26 H1.6 L0,24.4 V18.5 H4.2 V22 H7.8 V14.8 H3.6 V11 H7.8 V4 H4.2 V7.5 H0 V1.6 Z" fill="#fff" fill-rule="evenodd"/><rect x="440" y="346" width="44" height="52" rx="13" fill="#050505"/><path transform="translate(456.00,356.50) scale(1.0)" d="M1.6,0 H10.4 L12,1.6 V11.2 L11,13 L12,14.8 V24.4 L10.4,26 H1.6 L0,24.4 V14.8 L1,13 L0,11.2 V1.6 Z M4.2,4 V10.8 H7.8 V4 Z M4.2,15.4 V22 H7.8 V15.4 Z" fill="#fff" fill-rule="evenodd"/><rect x="526" y="378" width="41" height="51" rx="13" fill="#050505"/><path transform="translate(540.50,388.00) scale(1.0)" d="M0,0 H12 V4.5 L8.2,26 H3.8 L7.6,4.3 H0 Z" fill="#fff" fill-rule="evenodd"/><rect x="756" y="378" width="45" height="52" rx="13" fill="#050505"/><path transform="translate(772.50,388.50) scale(1.0)" d="M1.6,0 H10.4 L12,1.6 V12.2 L4.2,19.8 V22 H12 V26 H0 V18.2 L7.8,10.6 V4 H4.2 V7.5 H0 V1.6 Z" fill="#fff" fill-rule="evenodd"/><rect x="824" y="346" width="38" height="52" rx="13" fill="#050505"/><path transform="translate(838.80,356.50) scale(1.0)" d="M2.6,0 H8.4 V26 H2.8 V6 L0,7 V3 Z" fill="#fff" fill-rule="evenodd"/><rect x="520" y="809" width="44" height="51" rx="13" fill="#050505"/><path transform="translate(536.00,819.00) scale(1.0)" d="M1.6,0 H10.4 L12,1.6 V4.2 L4.2,7.6 V9.6 H10.4 L12,11.2 V24.4 L10.4,26 H1.6 L0,24.4 V1.6 Z M4.2,13.2 V22 H7.8 V13.2 Z" fill="#fff" fill-rule="evenodd"/><rect x="433" y="842" width="44" height="52" rx="13" fill="#050505"/><path transform="translate(449.00,852.50) scale(1.0)" d="M0,0 H12 V4 H4.2 V12 L10.4,8.6 L12,10 V24.4 L10.4,26 H1.6 L0,24.4 V19 H4.2 V22 H7.8 V13.8 L0,17.8 Z" fill="#fff" fill-rule="evenodd"/><rect x="733" y="809" width="44" height="51" rx="13" fill="#050505"/><path transform="translate(749.00,819.00) scale(1.0)" d="M0,0 H4.2 V13.6 L7.8,11.6 V5 L12,3.6 V26 H7.8 V16.4 L0,20.6 Z" fill="#fff" fill-rule="evenodd"/><rect x="814" y="842" width="45" height="52" rx="13" fill="#050505"/><path transform="translate(830.50,852.50) scale(1.0)" d="M1.6,0 H10.4 L12,1.6 V24.4 L10.4,26 H1.6 L0,24.4 V18.5 H4.2 V22 H7.8 V14.8 H3.6 V11 H7.8 V4 H4.2 V7.5 H0 V1.6 Z" fill="#fff" fill-rule="evenodd"/><rect x="482" y="908" width="53" height="52" rx="13" fill="#050505"/><path transform="translate(497.30,918.50) scale(1.0)" d="M2.6,0 H8.4 V26 H2.8 V6 L0,7 V3 Z" fill="#fff" fill-rule="evenodd"/><path transform="translate(507.70,918.50) scale(1.0)" d="M0,0 H12 V4 H4.2 V12 L10.4,8.6 L12,10 V24.4 L10.4,26 H1.6 L0,24.4 V19 H4.2 V22 H7.8 V13.8 L0,17.8 Z" fill="#fff" fill-rule="evenodd"/><rect x="757" y="908" width="54" height="52" rx="13" fill="#050505"/><path transform="translate(772.80,918.50) scale(1.0)" d="M2.6,0 H8.4 V26 H2.8 V6 L0,7 V3 Z" fill="#fff" fill-rule="evenodd"/><path transform="translate(783.20,918.50) scale(1.0)" d="M0,0 H4.2 V13.6 L7.8,11.6 V5 L12,3.6 V26 H7.8 V16.4 L0,20.6 Z" fill="#fff" fill-rule="evenodd"/><rect x="406" y="972" width="56" height="51" rx="13" fill="#050505"/><path transform="translate(421.00,982.00) scale(1.0)" d="M1.6,0 H10.4 L12,1.6 V12.2 L4.2,19.8 V22 H12 V26 H0 V18.2 L7.8,10.6 V4 H4.2 V7.5 H0 V1.6 Z" fill="#fff" fill-rule="evenodd"/><path transform="translate(435.00,982.00) scale(1.0)" d="M1.6,0 H10.4 L12,1.6 V24.4 L10.4,26 H1.6 L0,24.4 V18.5 H4.2 V22 H7.8 V14.8 H3.6 V11 H7.8 V4 H4.2 V7.5 H0 V1.6 Z" fill="#fff" fill-rule="evenodd"/><rect x="545" y="972" width="57" height="51" rx="13" fill="#050505"/><path transform="translate(560.50,982.00) scale(1.0)" d="M1.6,0 H10.4 L12,1.6 V12.2 L4.2,19.8 V22 H12 V26 H0 V18.2 L7.8,10.6 V4 H4.2 V7.5 H0 V1.6 Z" fill="#fff" fill-rule="evenodd"/><path transform="translate(574.50,982.00) scale(1.0)" d="M1.6,0 H10.4 L12,1.6 V12.2 L4.2,19.8 V22 H12 V26 H0 V18.2 L7.8,10.6 V4 H4.2 V7.5 H0 V1.6 Z" fill="#fff" fill-rule="evenodd"/><rect x="683" y="972" width="55" height="51" rx="13" fill="#050505"/><path transform="translate(699.30,982.00) scale(1.0)" d="M1.6,0 H10.4 L12,1.6 V12.2 L4.2,19.8 V22 H12 V26 H0 V18.2 L7.8,10.6 V4 H4.2 V7.5 H0 V1.6 Z" fill="#fff" fill-rule="evenodd"/><path transform="translate(713.30,982.00) scale(1.0)" d="M2.6,0 H8.4 V26 H2.8 V6 L0,7 V3 Z" fill="#fff" fill-rule="evenodd"/><rect x="821" y="972" width="59" height="51" rx="13" fill="#050505"/><path transform="translate(837.50,982.00) scale(1.0)" d="M1.6,0 H10.4 L12,1.6 V12.2 L4.2,19.8 V22 H12 V26 H0 V18.2 L7.8,10.6 V4 H4.2 V7.5 H0 V1.6 Z" fill="#fff" fill-rule="evenodd"/><path transform="translate(851.50,982.00) scale(1.0)" d="M1.6,0 H10.4 L12,1.6 V24.4 L10.4,26 H1.6 L0,24.4 V1.6 Z M4.2,4 V22 H7.8 V4 Z" fill="#fff" fill-rule="evenodd"/>
</g>

<g fill="#000">
<text x="1394" y="70" font-size="39" font-weight="bold" textLength="268" lengthAdjust="spacingAndGlyphs">LOWER LEVEL</text>
<rect x="1248" y="135" width="102" height="68" fill="#387a64"/>
<text x="1370.5" y="181" font-size="41" textLength="223" lengthAdjust="spacingAndGlyphs">BOX(LOGE)</text>
<text x="1632" y="159" font-size="25.5" textLength="177" lengthAdjust="spacingAndGlyphs">8 TO 10 ROWS</text>
<text x="1632" y="196" font-size="26" textLength="167" lengthAdjust="spacingAndGlyphs">FROM COURT</text>
<rect x="1249" y="246" width="102" height="68" fill="#c38123"/>
<text x="1367" y="291" font-size="41" textLength="204" lengthAdjust="spacingAndGlyphs">CAT GOLD</text>
<text x="1622.6" y="288.3" font-size="25.5" textLength="213.6" lengthAdjust="spacingAndGlyphs">ROW 1 TO ROW 9</text>
<rect x="1249" y="356" width="102" height="68" fill="#d1a132"/>
<text x="1367" y="407" font-size="42" textLength="106" lengthAdjust="spacingAndGlyphs">CAT 1</text>
<text x="1645" y="403" font-size="27" textLength="169" lengthAdjust="spacingAndGlyphs">ROW 10 TO 21</text>
<text x="1403.4" y="580" font-size="39" font-weight="bold" textLength="252.6" lengthAdjust="spacingAndGlyphs">UPPER LEVEL</text>
<rect x="1250" y="622" width="102" height="68" fill="#b75a2f"/>
<text x="1368" y="669" font-size="40.5" textLength="118" lengthAdjust="spacingAndGlyphs">CAT 2</text>
<text x="1649" y="664.2" font-size="25" textLength="151" lengthAdjust="spacingAndGlyphs">ROW 1 TO 13</text>
<rect x="1251" y="733" width="101" height="68" fill="#34a5bc"/>
<text x="1367" y="780" font-size="41.5" textLength="118" lengthAdjust="spacingAndGlyphs">CAT 3</text>
<text x="1646" y="775" font-size="26.5" textLength="170" lengthAdjust="spacingAndGlyphs">ROW 14 TO 18</text>
<rect x="1250.5" y="899" width="59.5" height="44.5" rx="7" fill="#050505"/>
<path transform="translate(1267.80,905.80) scale(1.0)" d="M0,0 H4.2 V13.6 L7.8,11.6 V5 L12,3.6 V26 H7.8 V16.4 L0,20.6 Z" fill="#fff" fill-rule="evenodd"/><path transform="translate(1281.60,905.80) scale(1.0)" d="M1.6,0 H10.4 L12,1.6 V12.2 L4.2,19.8 V22 H12 V26 H0 V18.2 L7.8,10.6 V4 H4.2 V7.5 H0 V1.6 Z" fill="#fff" fill-rule="evenodd"/>
<text x="1339.5" y="933" font-size="39.5" textLength="132" lengthAdjust="spacingAndGlyphs">STAIRS</text>
</g>
</svg>
</body></html>
